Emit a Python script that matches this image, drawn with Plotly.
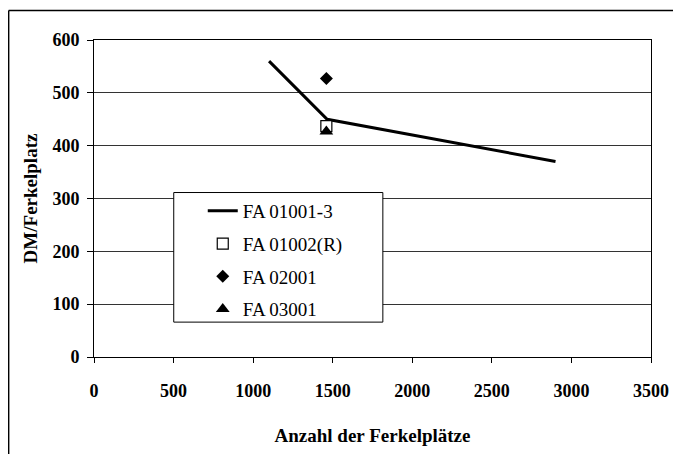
import plotly.graph_objects as go

# Data
line_x = [1100, 1465, 2900]
line_y = [560, 450, 370]
fa01002_x = [1460]
fa01002_y = [437]
fa02001_x = [1460]
fa02001_y = [527]
fa03001_x = [1460]
fa03001_y = [427]

x_ticks = [0, 500, 1000, 1500, 2000, 2500, 3000, 3500]
y_ticks = [0, 100, 200, 300, 400, 500, 600]

FONT = "Liberation Serif, Times New Roman, serif"

fig = go.Figure()
fig.add_trace(go.Scatter(x=line_x, y=line_y, mode="lines", name="FA 01001-3",
                         line=dict(color="black", width=3), legendgroup="a"))
fig.add_trace(go.Scatter(x=fa01002_x, y=fa01002_y, mode="markers", name="FA 01002(R)",
                         marker=dict(symbol="square", size=11, color="white",
                                     line=dict(color="black", width=1.2)), legendgroup="b"))
fig.add_trace(go.Scatter(x=fa02001_x, y=fa02001_y, mode="markers", name="FA 02001",
                         marker=dict(symbol="diamond", size=10, color="black"), legendgroup="c"))
fig.add_trace(go.Scatter(x=fa03001_x, y=fa03001_y, mode="markers", name="FA 03001",
                         marker=dict(symbol="triangle-up", size=12, color="black"), legendgroup="d"))

# The page body adds an 8px offset; work in reference pixel coords minus 8.
OFF = 8
W, H = 681 - OFF, 454 - OFF
L, R, T, B = 94.3 - OFF, 651.0 - OFF, 39.5 - OFF, 357.5 - OFF
pw, ph = R - L, B - T

def px(xpix):
    return (xpix - OFF - L) / pw

def py(ypix):
    return (B - (ypix - OFF)) / ph

shapes = [
    # legend box
    dict(type="rect", xref="paper", yref="paper", layer="above",
         x0=px(174), x1=px(383), y0=py(322.5), y1=py(192.5),
         fillcolor="white", line=dict(color="black", width=1)),
    # outer chart frame (left and top edges visible)
    dict(type="line", xref="paper", yref="paper", x0=px(9), x1=px(9),
         y0=py(10), y1=py(470), line=dict(color="black", width=1.5)),
    dict(type="line", xref="paper", yref="paper", x0=px(9), x1=px(700),
         y0=py(10), y1=py(10), line=dict(color="black", width=1.5)),
]

fig.update_layout(
    width=W, height=H,
    margin=dict(l=L, r=W - R, t=T, b=H - B, autoexpand=False),
    paper_bgcolor="white", plot_bgcolor="white",
    font=dict(family=FONT, color="black"),
    showlegend=True,
    legend=dict(x=px(203), y=py(192), xanchor="left", yanchor="top",
                bgcolor="rgba(0,0,0,0)", borderwidth=0,
                font=dict(family=FONT, size=19, color="black"),
                tracegroupgap=5),
    shapes=shapes,
    xaxis=dict(range=[0, 3500], tickvals=x_ticks, ticktext=[str(v) for v in x_ticks],
               showgrid=False, zeroline=False, showline=True, linecolor="black",
               linewidth=1, mirror=True, ticks="outside", ticklen=5, tickcolor="black",
               ticklabelstandoff=12,
               tickfont=dict(family=FONT, size=18, color="black", weight="bold"),
               title=dict(text="<b>Anzahl der Ferkelplätze</b>", standoff=29,
                          font=dict(family=FONT, size=19, color="black"))),
    yaxis=dict(range=[0, 600], tickvals=y_ticks, ticktext=[str(v) for v in y_ticks],
               showgrid=True, gridcolor="#333333", gridwidth=1,
               zeroline=False, showline=True, linecolor="black",
               linewidth=1, mirror=True, ticks="outside", ticklen=6, tickcolor="black",
               ticklabelstandoff=4,
               tickfont=dict(family=FONT, size=18, color="black", weight="bold"),
               title=dict(text="<b>DM/Ferkelplatz</b>", standoff=9,
                          font=dict(family=FONT, size=19, color="black"))),
)

fig.write_html("out.html")
